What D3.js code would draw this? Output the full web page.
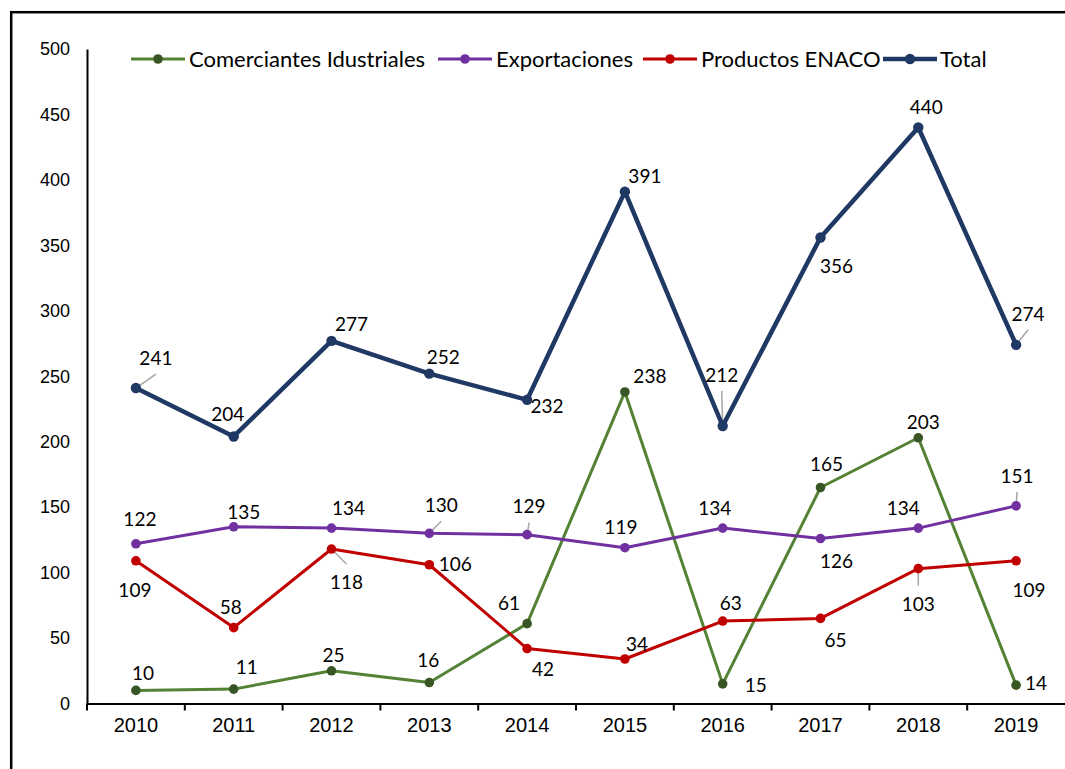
<!DOCTYPE html>
<html>
<head>
<meta charset="utf-8">
<script src="https://cdn.jsdelivr.net/npm/d3@7"></script>
<style>
  body { margin: 0; background: #fff; }
  .lbl { font-family: Lato, "Open Sans", sans-serif; font-size: 19px; fill: #000; }
  .legend { font-family: Lato, "Open Sans", sans-serif; font-size: 22px; fill: #000; }
</style>
</head>
<body>
<div id="chart"></div>
<script>
// data
var years = ["2010", "2011", "2012", "2013", "2014", "2015", "2016", "2017", "2018", "2019"];
var comerciantes = [10, 11, 25, 16, 61, 238, 15, 165, 203, 14];
var exportaciones = [122, 135, 134, 130, 129, 119, 134, 126, 134, 151];
var productos = [109, 58, 118, 106, 42, 34, 63, 65, 103, 109];
var total = [241, 204, 277, 252, 232, 391, 212, 356, 440, 274];
var yTicks = [0, 50, 100, 150, 200, 250, 300, 350, 400, 450, 500];

var svgWidth = 1065;
var svgHeight = 769;

var svg = d3.select("#chart")
  .append("svg")
  .attr("width", svgWidth)
  .attr("height", svgHeight);

// outer frame (runs off the right and bottom edge)
svg.append("rect")
  .attr("x", 11.2)
  .attr("y", 12.2)
  .attr("width", 1100)
  .attr("height", 800)
  .attr("fill", "none")
  .attr("stroke", "#000")
  .attr("stroke-width", 2.5);

var x = d3.scaleBand()
  .domain(years)
  .range([87, 1065]);

var y = d3.scaleLinear()
  .domain([0, 500])
  .range([703.5, 49]);

var tickFont = "'Liberation Sans', Arial, sans-serif";

// y axis: line + labels, no ticks
var yAxis = svg.append("g")
  .attr("transform", "translate(87,0)")
  .call(d3.axisLeft(y).tickValues(yTicks).tickSize(0).tickPadding(17));
yAxis.attr("font-family", tickFont).attr("font-size", 18);
yAxis.select(".domain").attr("stroke", "#000").attr("stroke-width", 2);
yAxis.selectAll("text").attr("fill", "#000")
  .style("font-family", tickFont).style("font-size", "18px").style("font-weight", "normal");

// x axis with ticks between categories
var xAxis = svg.append("g")
  .attr("transform", "translate(0,703.5)")
  .call(d3.axisBottom(x).tickSize(0).tickPadding(14));
xAxis.attr("font-family", tickFont).attr("font-size", 20);
xAxis.select(".domain").attr("stroke", "#000").attr("stroke-width", 2);
xAxis.selectAll("text").attr("fill", "#000")
  .style("font-family", tickFont).style("font-size", "20px").style("font-weight", "normal");
xAxis.selectAll(".sep")
  .data(years)
  .enter()
  .append("line")
  .attr("x1", d => x(d))
  .attr("x2", d => x(d))
  .attr("y1", 0)
  .attr("y2", 7)
  .attr("stroke", "#000")
  .attr("stroke-width", 2);

// label placement (dx, dy from the point), and which ones have leader lines
var series = [
  { name: "Comerciantes Idustriales", values: comerciantes, line: "#548235", dot: "#375623", width: 3, r: 4.8,
    offs: [[7,-17],[13,-22],[2,-16],[-1,-22],[-18,-20],[25,-16],[33,1],[6,-23],[5,-16],[20,-2]],
    lead: [0,0,0,0,0,0,0,0,0,0] },
  { name: "Exportaciones", values: exportaciones, line: "#7030A0", dot: "#7030A0", width: 3, r: 4.8,
    offs: [[4,-25],[10,-15],[17,-20],[12,-28],[2,-28],[-4,-21],[-8,-20],[16,23],[-15,-20],[1,-30]],
    lead: [0,0,0,1,1,0,0,0,0,1] },
  { name: "Productos ENACO", values: productos, line: "#C00000", dot: "#C00000", width: 3, r: 4.8,
    offs: [[-1,29],[-3,-20],[15,33],[26,-1],[16,21],[12,-15],[8,-18],[15,22],[0,35],[13,29]],
    lead: [0,0,1,0,0,0,0,0,1,0] },
  { name: "Total", values: total, line: "#1F3864", dot: "#1F3864", width: 4.5, r: 5.2,
    offs: [[20,-30],[-6,-22],[20,-17],[14,-16],[20,6],[20,-16],[-1,-51],[16,29],[8,-20],[12,-31]],
    lead: [1,0,0,0,0,0,1,0,0,1] }
];

var cx = d => x(d) + x.bandwidth() / 2;

var lineGen = d3.line()
  .x((d, i) => cx(years[i]))
  .y(d => y(d));

series.forEach(function(s) {
  var g = svg.append("g");

  // leader lines
  s.values.forEach(function(v, i) {
    if (!s.lead[i]) return;
    var px = cx(years[i]), py = y(v);
    var lx = px + s.offs[i][0], ly = py + s.offs[i][1];
    var ey = s.offs[i][1] < 0 ? ly + 16 : ly - 18;
    g.append("line")
      .attr("x1", px).attr("y1", py)
      .attr("x2", lx).attr("y2", ey)
      .attr("stroke", "#A6A6A6")
      .attr("stroke-width", 1.5);
  });

  g.append("path")
    .datum(s.values)
    .attr("d", lineGen)
    .attr("fill", "none")
    .attr("stroke", s.line)
    .attr("stroke-width", s.width)
    .attr("stroke-linejoin", "round");

  g.selectAll("circle")
    .data(s.values)
    .enter()
    .append("circle")
    .attr("cx", (d, i) => cx(years[i]))
    .attr("cy", d => y(d))
    .attr("r", s.r)
    .attr("fill", s.dot);

  g.selectAll("text")
    .data(s.values)
    .enter()
    .append("text")
    .attr("class", "lbl")
    .attr("x", (d, i) => cx(years[i]) + s.offs[i][0])
    .attr("y", (d, i) => y(d) + s.offs[i][1])
    .attr("dy", "0.36em")
    .attr("text-anchor", "middle")
    .text(d => d);
});

// legend
var legendX = [131, 438, 643, 883];
var legend = svg.append("g").attr("transform", "translate(0,59)");
series.forEach(function(s, i) {
  var lg = legend.append("g").attr("transform", `translate(${legendX[i]},0)`);
  lg.append("line")
    .attr("x1", 0).attr("x2", 54)
    .attr("y1", 0).attr("y2", 0)
    .attr("stroke", s.line)
    .attr("stroke-width", s.width);
  lg.append("circle")
    .attr("cx", 27).attr("cy", 0)
    .attr("r", s.r)
    .attr("fill", s.dot);
  lg.append("text")
    .attr("class", "legend")
    .attr("x", i === 3 ? 57 : 58)
    .attr("y", 0)
    .attr("dy", "0.36em")
    .text(s.name);
});
</script>
</body>
</html>
